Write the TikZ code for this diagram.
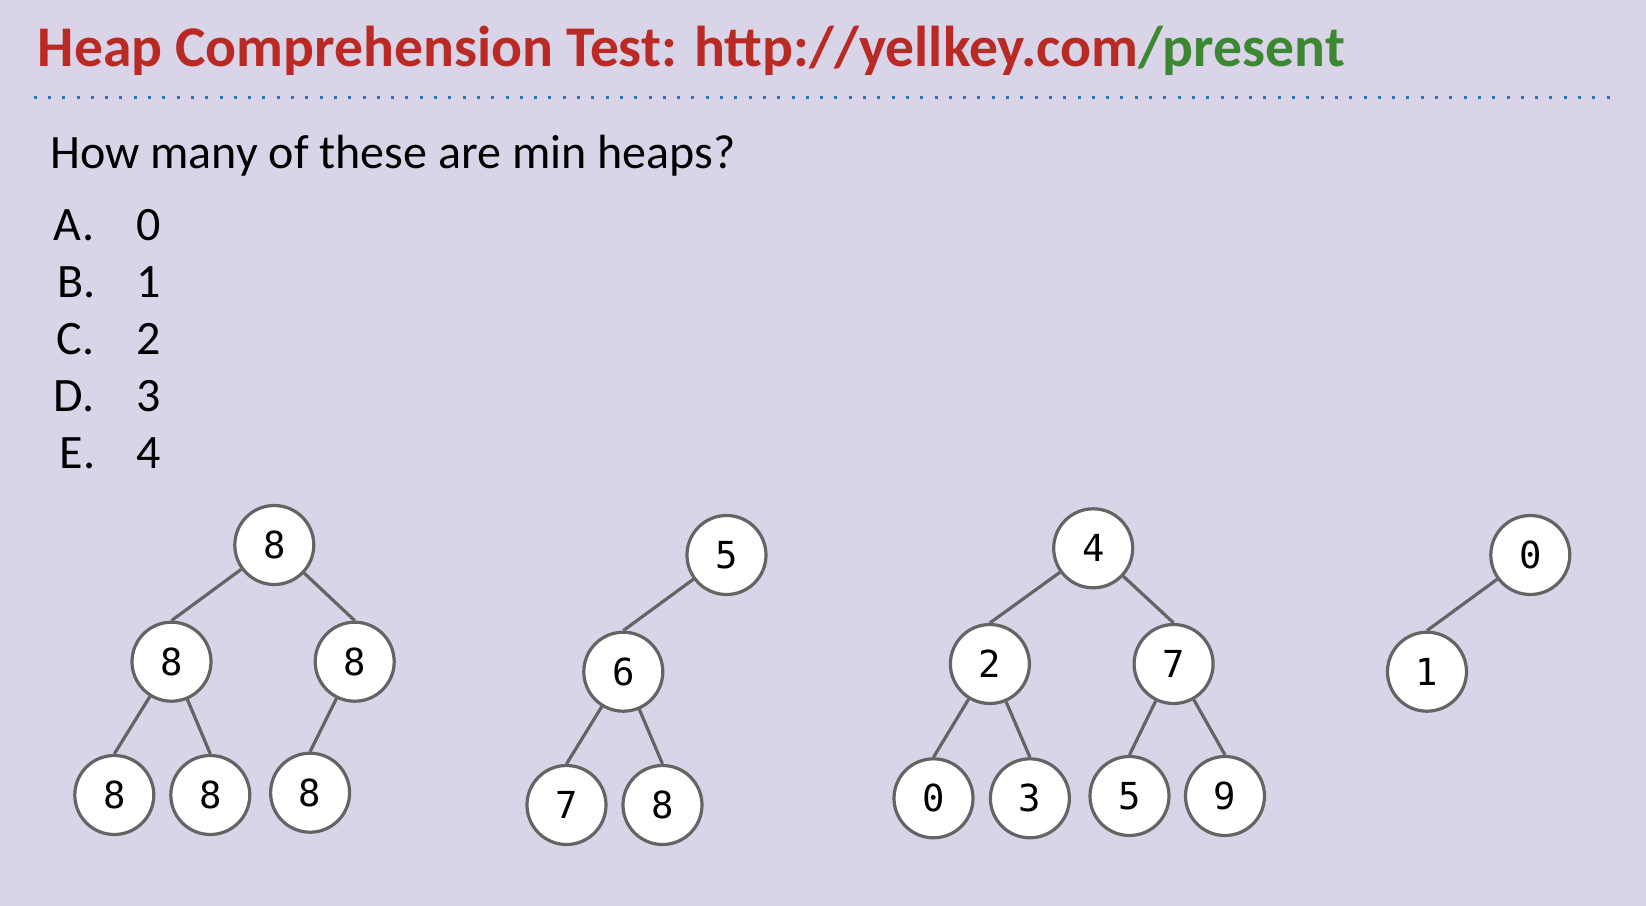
\documentclass[tikz,border=0pt]{standalone}
\usepackage{fontspec}
\setmainfont{Carlito}
\newfontfamily\monofnt{DejaVu Sans Mono}
\definecolor{bgcol}{RGB}{217,212,232}
\definecolor{titlered}{RGB}{185,42,36}
\definecolor{urlgreen}{RGB}{60,136,50}
\definecolor{dotblue}{RGB}{46,117,182}
\definecolor{nodegray}{RGB}{100,100,100}
\tikzset{
  hnode/.style={circle, draw=nodegray, fill=white, line width=1.6pt, minimum size=39.5pt, inner sep=0pt, font=\monofnt\fontsize{18.6}{21}\selectfont},
  hedge/.style={draw=nodegray, line width=1.6pt},
  txt/.style={anchor=base west, inner sep=0pt, outer sep=0pt},
}
\begin{document}
\begin{tikzpicture}[x=0.5pt,y=-0.5pt]
\fill[bgcol] (0,0) rectangle (1646,906);
\useasboundingbox (0,0) rectangle (1646,906);
% title
\node[txt, font=\fontsize{28.8}{34}\selectfont\bfseries] (title) at (37.8,66.7)
  {\color{titlered}Heap Comprehension Test: http://yellkey.com\color{urlgreen}/present};
\coordinate (dl) at (33.6,97.3);
\coordinate (dr) at (1610,97.3);
\draw[dotblue, line width=1.7pt, dash pattern=on 1.5pt off 5.65pt] (dl) -- (dr);
% question
\node[txt, font=\fontsize{24}{29}\selectfont] (q) at (50.4,168.3) {How many of these are min heaps?};
\begin{scope}[every node/.style={txt, font=\fontsize{24}{29}\selectfont}]
\node (la) at (54,240) {A.}; \node (na) at (136.7,240) {0};
\node (lb) at (57,297) {B.};   \node (nb) at (136.7,297) {1};
\node (lc) at (56.5,354.5) {C.};   \node (nc) at (136.7,354.5) {2};
\node (ld) at (54,411.7) {D.};   \node (nd) at (136.7,411.7) {3};
\node (le) at (60,468.5) {E.};   \node (ne) at (136.7,468.5) {4};
\end{scope}
% tree 1
\node[hnode] (a) at (274.3,545) {8};
\node[hnode] (a1) at (171.5,661.7) {8};
\node[hnode] (a2) at (354.7,661.7) {8};
\node[hnode] (a11) at (114.3,795) {8};
\node[hnode] (a12) at (210.3,795) {8};
\node[hnode] (a21) at (310.1,792.7) {8};
\draw[hedge] (a) -- (a1.north);
\draw[hedge] (a) -- (a2.north);
\draw[hedge] (a1) -- (a11.north);
\draw[hedge] (a1) -- (a12.north);
\draw[hedge] (a2) -- (a21.north);
% tree 2
\node[hnode] (b) at (726.5,555) {5};
\node[hnode] (b1) at (623.3,671.7) {6};
\node[hnode] (b11) at (566.5,805) {7};
\node[hnode] (b12) at (662.5,805) {8};
\draw[hedge] (b) -- (b1.north);
\draw[hedge] (b1) -- (b11.north);
\draw[hedge] (b1) -- (b12.north);
% tree 3
\node[hnode] (c) at (1093.2,548.3) {4};
\node[hnode] (c1) at (989.9,664) {2};
\node[hnode] (c2) at (1173.6,664) {7};
\node[hnode] (c11) at (933.5,798.3) {0};
\node[hnode] (c12) at (1029.9,798.3) {3};
\node[hnode] (c21) at (1129.5,796) {5};
\node[hnode] (c22) at (1225,796) {9};
\draw[hedge] (c) -- (c1.north);
\draw[hedge] (c) -- (c2.north);
\draw[hedge] (c1) -- (c11.north);
\draw[hedge] (c1) -- (c12.north);
\draw[hedge] (c2) -- (c21.north);
\draw[hedge] (c2) -- (c22.north);
% tree 4
\node[hnode] (d) at (1530.3,555) {0};
\node[hnode] (d1) at (1427,671.7) {1};
\draw[hedge] (d) -- (d1.north);
\end{tikzpicture}
\end{document}
